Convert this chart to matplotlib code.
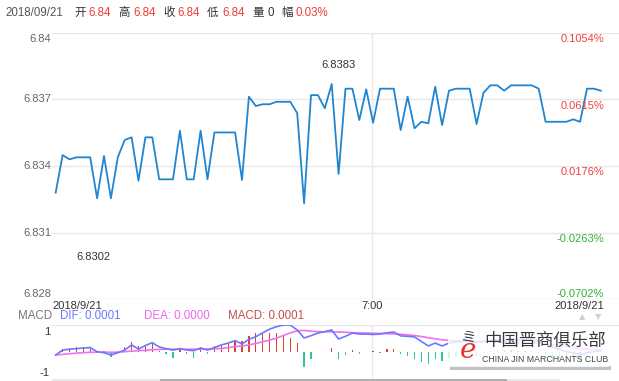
import matplotlib
matplotlib.use("Agg")
import matplotlib.pyplot as plt
import numpy as np

# ---------------- data ----------------
price = [6.83280, 6.83449, 6.83430, 6.83439, 6.83439, 6.83439, 6.83255, 6.83445, 6.83255, 6.83439,
         6.83517, 6.83529, 6.83334, 6.83529, 6.83529, 6.83340, 6.83340, 6.83340, 6.83559, 6.83340,
         6.83340, 6.83559, 6.83340, 6.83551, 6.83551, 6.83551, 6.83551, 6.83337, 6.83712, 6.83670,
         6.83678, 6.83678, 6.83689, 6.83689, 6.83689, 6.83638, 6.83232, 6.83719, 6.83719, 6.83660,
         6.83769, 6.83364, 6.83748, 6.83748, 6.83607, 6.83745, 6.83595, 6.83748, 6.83748, 6.83748,
         6.83562, 6.83712, 6.83570, 6.83599, 6.83592, 6.83757, 6.83584, 6.83739, 6.83748, 6.83748,
         6.83748, 6.83589, 6.83730, 6.83763, 6.83763, 6.83739, 6.83763, 6.83763, 6.83763, 6.83763,
         6.83748, 6.83599, 6.83599, 6.83599, 6.83599, 6.83610, 6.83599, 6.83748, 6.83748, 6.83739]

dif = [-0.16, 0.08, 0.12, 0.15, 0.18, 0.2, 0.0, -0.05, -0.16, -0.05,
       0.08, 0.33, 0.13, 0.3, 0.44, 0.23, 0.15, 0.08, 0.15, 0.08,
       0.05, 0.18, 0.08, 0.2, 0.33, 0.42, 0.54, 0.38, 0.6, 0.73,
       0.92, 1.1, 1.22, 1.3, 1.3, 1.06, 0.67, 0.78, 0.91, 0.98,
       1.06, 0.62, 0.75, 0.91, 0.86, 0.86, 0.84, 0.86, 0.92, 0.96,
       0.77, 0.75, 0.72, 0.5, 0.28, 0.42, 0.28, 0.42, 0.48, 0.5,
       0.52, 0.45, 0.5, 0.55, 0.56, 0.55, 0.56, 0.57, 0.57, 0.55,
       0.5, 0.35, 0.22, 0.12, 0.0, -0.05, -0.15, -0.05, 0.0, 0.05]

dea = [-0.16, -0.13, -0.1, -0.07, -0.05, -0.03, -0.02, -0.02, -0.03, -0.02,
       0.0, 0.03, 0.05, 0.07, 0.1, 0.11, 0.12, 0.12, 0.12, 0.12,
       0.12, 0.13, 0.13, 0.14, 0.16, 0.2, 0.25, 0.28, 0.33, 0.4,
       0.48, 0.57, 0.66, 0.79, 0.92, 1.02, 1.04, 1.0, 0.98, 0.97,
       0.97, 0.96, 0.95, 0.93, 0.92, 0.91, 0.9, 0.89, 0.88, 0.87,
       0.85, 0.82, 0.79, 0.74, 0.68, 0.63, 0.58, 0.55, 0.53, 0.52,
       0.51, 0.5, 0.49, 0.48, 0.47, 0.46, 0.45, 0.44, 0.43, 0.42,
       0.4, 0.38, 0.35, 0.3, 0.25, 0.2, 0.15, 0.12, 0.1, 0.08]

macd = [0.0, 0.15, 0.2, 0.22, 0.22, 0.25, -0.07, 0.02, -0.24, 0.0,
        0.25, 0.48, 0.28, 0.33, 0.44, 0.02, -0.12, -0.3, 0.2, -0.12,
        -0.3, 0.22, -0.1, 0.28, 0.33, 0.44, 0.57, 0.52, 0.76, 0.91,
        0.91, 0.93, 0.91, 0.76, 0.67, 0.42, -0.73, -0.38, 0.0, 0.0,
        0.17, -0.35, -0.15, 0.08, -0.12, 0.0, 0.05, -0.05, 0.12, 0.15,
        -0.1, -0.2, -0.35, -0.5, -0.6, -0.35, -0.45, -0.3, -0.2, -0.15,
        -0.1, -0.2, -0.1, 0.05, 0.08, 0.06, 0.08, 0.05, 0.04, 0.02,
        -0.05, -0.3, -0.45, -0.5, -0.55, -0.45, -0.5, -0.1, 0.05, 0.1]

yticks = [6.828, 6.831, 6.834, 6.837, 6.840]
ytick_labels = ["6.828", "6.831", "6.834", "6.837", "6.84"]
pct_labels = ["-0.0702%", "-0.0263%", "0.0176%", "0.0615%", "0.1054%"]
xtick_labels = ["2018/9/21", "7:00", "2018/9/21"]
header = [("2018/09/21", "#555555"), ("开", "#333333"), ("6.84", "#f03c32"),
          ("高", "#333333"), ("6.84", "#f03c32"), ("收", "#333333"), ("6.84", "#f03c32"),
          ("低", "#333333"), ("6.84", "#f03c32"), ("量", "#333333"), ("0", "#333333"),
          ("幅", "#333333"), ("0.03%", "#f03c32")]
header_x = [5, 74, 88, 118, 133, 163, 177, 207, 222, 252, 267, 281, 296]

FONT = ["Liberation Sans", "Noto Sans CJK SC", "DejaVu Sans"]
plt.rcParams["font.family"] = FONT

W, H = 619, 381
fig = plt.figure(figsize=(W / 100, H / 100), dpi=100)
fig.patch.set_facecolor("white")


def fx(x):
    return x / W


def fy(y):
    return 1 - y / H


def ftext(x, y, s, **kw):
    fig.text(fx(x), fy(y), s, **kw)


n = len(price)
xs = np.arange(n)
x0px, dxpx = 55.7, 6.9
xl = (52 - x0px) / dxpx
xr = (619 - x0px) / dxpx
x700 = (372 - x0px) / dxpx

# ---------------- main axes ----------------
top_px, bot_px = 32.7, 299.3
ax = fig.add_axes([fx(52), fy(bot_px), fx(619) - fx(52), (bot_px - top_px) / H])
ax.set_xlim(xl, xr)
ax.set_ylim(6.828, 6.840)
for s in ax.spines.values():
    s.set_visible(False)
ax.set_xticks([])
ax.set_yticks([])
for t in yticks:
    ax.axhline(t, color="#e8e8e8", lw=1.0, zorder=0)
ax.axvline(x700, color="#e8e8e8", lw=1.0, zorder=0)
ax.plot(xs, price, color="#2185d0", lw=1.3, zorder=3)

# left tick labels
tick_px = [bot_px, 232.7, 166.0, 99.3, top_px]
for i, (lab, ypx) in enumerate(zip(ytick_labels, tick_px)):
    if i == 0:
        ftext(51, ypx - 0.5, lab, ha="right", va="bottom", fontsize=8, color="#666666")
    elif i == len(ytick_labels) - 1:
        ftext(51, ypx + 1.5, lab, ha="right", va="top", fontsize=8, color="#666666")
    else:
        ftext(51, ypx, lab, ha="right", va="center", fontsize=8, color="#666666")
# right percentage labels
for i, (lab, ypx) in enumerate(zip(pct_labels, tick_px)):
    col = "#33b233" if lab.startswith("-") else "#f04040"
    if i == 0:
        ftext(604, ypx - 0.5, lab, ha="right", va="bottom", fontsize=8, color=col)
    else:
        ftext(604, ypx + 1.5, lab, ha="right", va="top", fontsize=8, color=col)

# x labels
ftext(52, 306, xtick_labels[0], ha="left", va="center", fontsize=8, color="#333333")
ftext(372, 306, xtick_labels[1], ha="center", va="center", fontsize=8, color="#333333")
ftext(604, 306, xtick_labels[2], ha="right", va="center", fontsize=8, color="#333333")

# annotations
ftext(338, 65, "6.8383", ha="center", va="center", fontsize=8, color="#333333")
ftext(93, 257, "6.8302", ha="center", va="center", fontsize=8, color="#333333")

# header
for (s, c), x in zip(header, header_x):
    ftext(x, 13, s, ha="left", va="center", fontsize=8.3, color=c)

# ---------------- MACD axes ----------------
mt, mb = 325.0, 380.0
zero_px, unit_px = 351.7, 20.5
ylo = -(mb - zero_px) / unit_px
yhi = (zero_px - mt) / unit_px
axm = fig.add_axes([fx(52), fy(mb), fx(619) - fx(52), (mb - mt) / H])
axm.set_xlim(xl, xr)
axm.set_ylim(ylo, yhi)
for s in axm.spines.values():
    s.set_visible(False)
axm.set_xticks([])
axm.set_yticks([])
axm.axhline(yhi, color="#e8e8e8", lw=1.0, zorder=0)
axm.axvline(x700, color="#e8e8e8", lw=1.0, zorder=0)
bar_cols = ["#d6452c" if v > 0 else "#2ec88e" for v in macd]
axm.bar(xs, macd, width=0.2, color=bar_cols, zorder=2)
axm.plot(xs, dea, color="#f070f0", lw=1.2, zorder=3)
axm.plot(xs, dif, color="#6a78ff", lw=1.2, zorder=4)

# bottom scroll bar
fig.add_artist(plt.Rectangle((fx(52), fy(381)), fx(560) - fx(52), 2 / H, color="#e8e8e8", lw=0))
fig.add_artist(plt.Rectangle((fx(160), fy(381)), fx(507) - fx(160), 2 / H, color="#b0b0b0", lw=0))

ftext(50, 332, "1", ha="right", va="center", fontsize=8, color="#333333")
ftext(50, 373, "-1", ha="right", va="center", fontsize=8, color="#333333")

ftext(18, 316, "MACD", ha="left", va="center", fontsize=8.3, color="#777777")
ftext(60, 316, "DIF: 0.0001", ha="left", va="center", fontsize=8.3, color="#6a78ff")
ftext(144, 316, "DEA: 0.0000", ha="left", va="center", fontsize=8.3, color="#ee66ee")
ftext(228, 316, "MACD: 0.0001", ha="left", va="center", fontsize=8.3, color="#c0504d")

ftext(582, 317, "▲", ha="center", va="center", fontsize=6, color="#d0d0d0", family="DejaVu Sans")
ftext(598, 317, "▼", ha="center", va="center", fontsize=6, color="#d0d0d0", family="DejaVu Sans")

# ---------------- watermark logo ----------------
fig.add_artist(plt.Rectangle((fx(450), fy(370)), fx(611) - fx(450), 4 / H, color="#9a9a9a", lw=0, alpha=0.6, zorder=9))
fig.add_artist(plt.Rectangle((fx(448), fy(367)), fx(609) - fx(448), 37 / H, color="white", lw=0, alpha=0.8, zorder=10))
ftext(545, 341, "中国晋商俱乐部", ha="center", va="center", fontsize=12.5, color="#3a3a3a",
      family=["Noto Sans CJK SC"], zorder=11)
ftext(545, 359, "CHINA JIN MARCHANTS CLUB", ha="center", va="center", fontsize=6.3, color="#444444",
      zorder=11)
ftext(468, 351, "e", ha="center", va="center", fontsize=20, color="#e8322d", style="italic",
      family="DejaVu Serif", zorder=11)
ftext(468, 338, "亖", ha="center", va="center", fontsize=9, color="#333333",
      family=["Noto Sans CJK SC"], zorder=12, rotation=-10)

fig.savefig("out.png", dpi=100, facecolor="white")
